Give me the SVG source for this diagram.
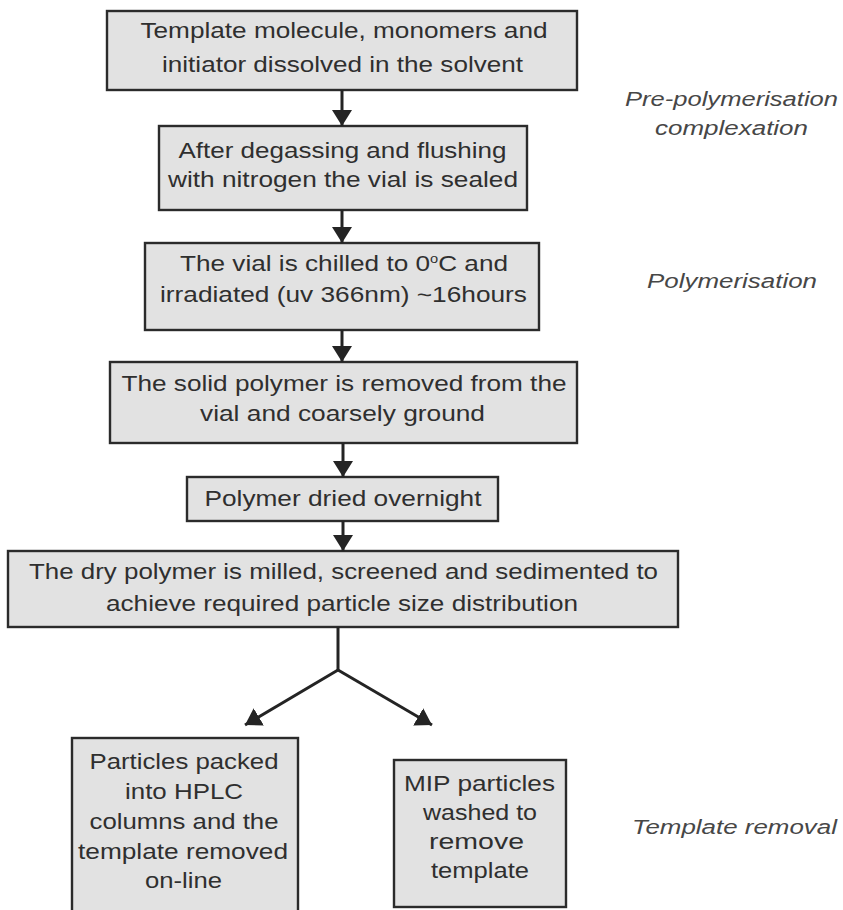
<svg xmlns="http://www.w3.org/2000/svg" width="843" height="910" viewBox="0 0 843 910">
  <style>
    .box { fill: #e2e2e2; stroke: #2b2b2b; stroke-width: 2.4; }
    .txt { font-family: "Liberation Sans", Arial, sans-serif; font-size: 21.5px; fill: #2f2f2f; text-anchor: middle; }
    .lbl { font-family: "Liberation Sans", Arial, sans-serif; font-size: 20px; font-style: italic; fill: #474747; text-anchor: middle; }
    .link { fill: none; stroke: #242424; stroke-width: 3; }
  </style>
  <defs>
    <marker id="head" viewBox="0 0 16 20" refX="16" refY="10" markerWidth="16" markerHeight="20" markerUnits="userSpaceOnUse" orient="auto">
      <path d="M0,0 L16,10 L0,20 Z" fill="#242424"/>
    </marker>
  </defs>

  <rect width="843" height="910" fill="#ffffff"/>

  <!-- process steps -->
  <g id="step-dissolve">
    <rect class="box" x="107" y="11" width="470" height="79"/>
    <text class="txt" x="344" y="38" textLength="407" lengthAdjust="spacingAndGlyphs">Template molecule, monomers and</text>
    <text class="txt" x="342.5" y="72" textLength="361" lengthAdjust="spacingAndGlyphs">initiator dissolved in the solvent</text>
  </g>

  <g id="step-degas">
    <rect class="box" x="159" y="126" width="368" height="84"/>
    <text class="txt" x="342.5" y="158" textLength="328" lengthAdjust="spacingAndGlyphs">After degassing and flushing</text>
    <text class="txt" x="343" y="187" textLength="350" lengthAdjust="spacingAndGlyphs">with nitrogen the vial is sealed</text>
  </g>

  <g id="step-irradiate">
    <rect class="box" x="145" y="243" width="394" height="87"/>
    <text class="txt" x="344" y="271" textLength="328" lengthAdjust="spacingAndGlyphs">The vial is chilled to 0<tspan dy="-8" font-size="12">o</tspan><tspan dy="8">C and</tspan></text>
    <text class="txt" x="343.5" y="302" textLength="367" lengthAdjust="spacingAndGlyphs">irradiated (uv 366nm) ~16hours</text>
  </g>

  <g id="step-grind">
    <rect class="box" x="110" y="362" width="467" height="81"/>
    <text class="txt" x="344" y="391" textLength="445" lengthAdjust="spacingAndGlyphs">The solid polymer is removed from the</text>
    <text class="txt" x="342.5" y="421" textLength="285" lengthAdjust="spacingAndGlyphs">vial and coarsely ground</text>
  </g>

  <g id="step-dry">
    <rect class="box" x="187" y="477" width="311" height="44"/>
    <text class="txt" x="343" y="506" textLength="277" lengthAdjust="spacingAndGlyphs">Polymer dried overnight</text>
  </g>

  <g id="step-mill">
    <rect class="box" x="8" y="551" width="670" height="76"/>
    <text class="txt" x="343.5" y="579" textLength="629" lengthAdjust="spacingAndGlyphs">The dry polymer is milled, screened and sedimented to</text>
    <text class="txt" x="342" y="611" textLength="472" lengthAdjust="spacingAndGlyphs">achieve required particle size distribution</text>
  </g>

  <g id="step-hplc">
    <rect class="box" x="72" y="738" width="226" height="185"/>
    <text class="txt" x="184" y="769" textLength="189" lengthAdjust="spacingAndGlyphs">Particles packed</text>
    <text class="txt" x="184" y="799" textLength="118" lengthAdjust="spacingAndGlyphs">into HPLC</text>
    <text class="txt" x="184" y="829" textLength="189" lengthAdjust="spacingAndGlyphs">columns and the</text>
    <text class="txt" x="183" y="859" textLength="210" lengthAdjust="spacingAndGlyphs">template removed</text>
    <text class="txt" x="183.5" y="888" textLength="77" lengthAdjust="spacingAndGlyphs">on-line</text>
  </g>

  <g id="step-wash">
    <rect class="box" x="394" y="760" width="172" height="147"/>
    <text class="txt" x="479.5" y="791" textLength="151" lengthAdjust="spacingAndGlyphs">MIP particles</text>
    <text class="txt" x="480" y="820" textLength="114" lengthAdjust="spacingAndGlyphs">washed to</text>
    <text class="txt" x="476.5" y="849" textLength="95" lengthAdjust="spacingAndGlyphs">remove</text>
    <text class="txt" x="480" y="878" textLength="98" lengthAdjust="spacingAndGlyphs">template</text>
  </g>

  <!-- stage labels -->
  <g id="stage-pre">
    <text class="lbl" x="731.5" y="106" textLength="213" lengthAdjust="spacingAndGlyphs">Pre-polymerisation</text>
    <text class="lbl" x="731.5" y="135" textLength="153" lengthAdjust="spacingAndGlyphs">complexation</text>
  </g>
  <g id="stage-poly">
    <text class="lbl" x="732" y="288" textLength="170" lengthAdjust="spacingAndGlyphs">Polymerisation</text>
  </g>
  <g id="stage-removal">
    <text class="lbl" x="734.5" y="834" textLength="205" lengthAdjust="spacingAndGlyphs">Template removal</text>
  </g>

  <!-- connectors -->
  <g id="connectors">
    <line class="link" x1="342" y1="90" x2="342" y2="126" marker-end="url(#head)"/>
    <line class="link" x1="342" y1="210" x2="342" y2="243" marker-end="url(#head)"/>
    <line class="link" x1="342" y1="330" x2="342" y2="362" marker-end="url(#head)"/>
    <line class="link" x1="343" y1="443" x2="343" y2="477" marker-end="url(#head)"/>
    <line class="link" x1="343" y1="521" x2="343" y2="551" marker-end="url(#head)"/>
    <line class="link" x1="338" y1="627" x2="338" y2="670"/>
    <line class="link" x1="338" y1="670" x2="245" y2="725" marker-end="url(#head)"/>
    <line class="link" x1="338" y1="670" x2="432" y2="725" marker-end="url(#head)"/>
  </g>
</svg>
